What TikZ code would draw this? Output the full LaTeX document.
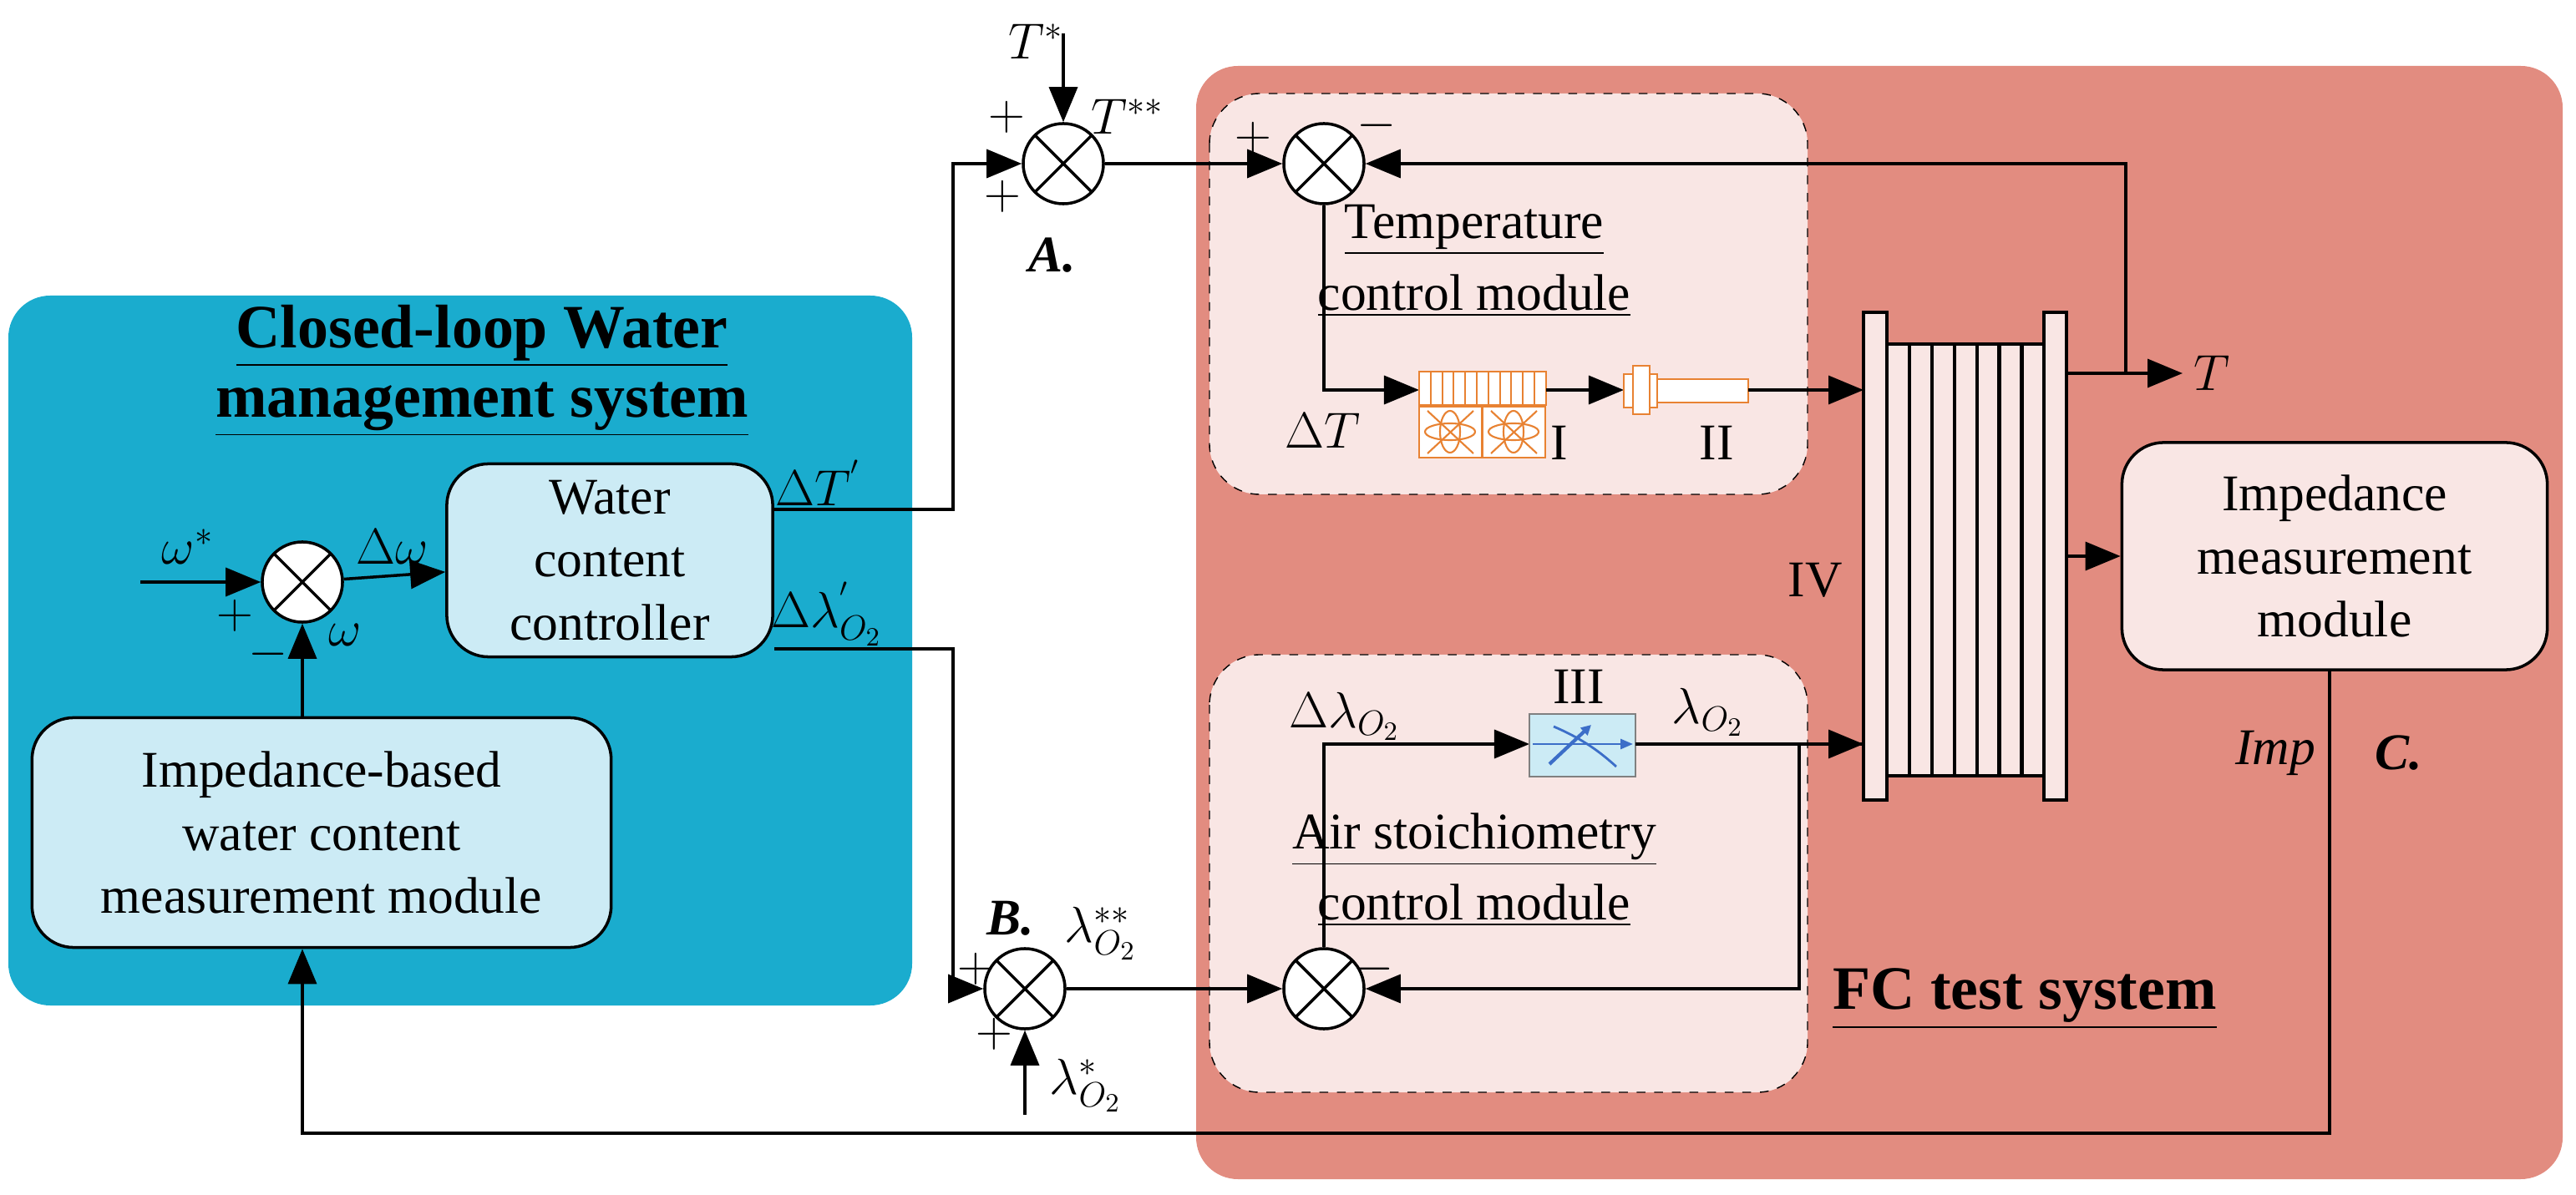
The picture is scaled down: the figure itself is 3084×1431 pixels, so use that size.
\documentclass[tikz,border=0pt]{standalone}
\usepackage{fontspec}
\setmainfont{Liberation Serif}
\usetikzlibrary{arrows.meta}
\definecolor{bluebg}{RGB}{26,172,206}
\definecolor{pinkbg}{RGB}{226,140,128}
\definecolor{lblue}{RGB}{204,235,245}
\definecolor{lpink}{RGB}{249,230,228}
\definecolor{fanor}{RGB}{232,130,50}
\definecolor{valveb}{RGB}{60,110,200}
\begin{document}
\begin{tikzpicture}[x=0.01cm,y=-0.01cm,
  every node/.style={font=\fontsize{17.5}{21.5}\selectfont},
  sum/.style={circle,draw,fill=white,line width=1pt,minimum size=0.96cm,inner sep=0pt,path picture={\draw (path picture bounding box.north west)--(path picture bounding box.south east) (path picture bounding box.north east)--(path picture bounding box.south west);}},
  blk/.style={draw,line width=1pt,rounded corners=0.5cm,align=center},
  arr/.style={-{Triangle[length=0.42cm,width=0.34cm]},line width=1pt},
  ln/.style={line width=1pt},
  ttl/.style={font=\fontsize{21}{26}\selectfont\bfseries,align=center},
  lbl/.style={inner sep=1pt}]
\useasboundingbox (0,0) rectangle (3084,1431);
% backgrounds
\fill[bluebg,rounded corners=0.5cm] (10,354) rectangle (1092,1204);
\fill[pinkbg,rounded corners=0.5cm] (1432,79) rectangle (3068,1412);
\draw[dashed,fill=lpink,rounded corners=0.6cm] (1448,112) rectangle (2164,592);
\draw[dashed,fill=lpink,rounded corners=0.6cm] (1448,784) rectangle (2164,1308);
% blue system
\node[ttl] (t1) at (577,402) {\underline{Closed-loop Water}};
\node[ttl] (t2) at (577,490) {\underline{management system}};
\node[blk,fill=lblue,minimum width=3.9cm,minimum height=2.31cm] (wcc) at (730,671) {Water\\content\\controller};
\node[blk,fill=lblue,minimum width=6.93cm,minimum height=2.75cm] (ibm) at (385,997) {Impedance-based\\water content\\measurement module};
\node[sum] (sw) at (362,697) {};
\coordinate (win) at (168,697);
\draw[arr] (win) -- (sw);
\draw[arr] (sw) -- (wcc);
\draw[arr] (ibm.north -| sw) -- (sw);
\node[lbl] at (225,655) {$\omega^{*}$};
\node[lbl] at (281,737) {$+$};
\node[lbl] at (321,783) {$-$};
\node[lbl] at (470,655) {$\Delta\omega$};
\node[lbl] at (413,760) {$\omega$};
% A sum
\node[sum] (sa) at (1273,196) {};
\coordinate (tin) at (1273,40);
\draw[arr] (tin) -- (sa);
\node[lbl] at (1240,50) {$T^{*}$};
\node[lbl] at (1205,140) {$+$};
\node[lbl] at (1200,235) {$+$};
\node[lbl] at (1350,140) {$T^{**}$};
\node[lbl] at (1260,306) {\bfseries\itshape A.};
\draw[arr] (wcc.east |- 0,610) -- (1141,610) -- (1141,196) -- (sa);
\node[lbl] at (980,578) {$\Delta T^{'}$};
% temperature module
\node[sum] (st) at (1585,196) {};
\draw[arr] (sa) -- (st);
\node[lbl] at (1500,165) {$+$};
\node[lbl] at (1648,150) {$-$};
\node (tt1) at (1765,275) {\underline{Temperature}};
\node (tt2) at (1765,354) {\underline{control module}};
% fan I
\coordinate (fanL) at (1699,467);
\draw[arr] (st) -- (st |- 0,467) -- (fanL);
\fill[white] (1699,445) rectangle (1851,548);
\draw[fanor,line width=0.8pt] (1699,445) rectangle (1851,485);
\foreach \i in {1,...,10} \draw[fanor,line width=0.6pt] (1699+\i*13.8,445) -- (1699+\i*13.8,485);
\foreach \x in {1699,1775}{
  \draw[fanor,line width=0.8pt] (\x,487) rectangle (\x+75,548);
  \draw[fanor,line width=0.6pt] (\x+37,517) ellipse (0.12cm and 0.25cm);
  \draw[fanor,line width=0.6pt] (\x+37,517) ellipse (0.3cm and 0.1cm);
  \draw[fanor,line width=0.6pt] (\x+10,492) -- (\x+65,543) (\x+65,492) -- (\x+10,543);}
\node[lbl] at (1584,516) {$\Delta T$};
\node[lbl] at (1867,530) {I};
\node[lbl] at (2055,530) {II};
% heater II
\draw[arr] (1851,467) -- (1944,467);
\draw[fanor,fill=white,line width=0.8pt] (1984,454) rectangle (2093,482);
\draw[fanor,fill=white,line width=0.8pt] (1944,448) rectangle (1984,488);
\draw[fanor,fill=white,line width=0.8pt] (1955,438) rectangle (1975,496);
% stack
\coordinate (stL) at (2231,467);
\draw[arr] (2093,467) -- (stL);
\draw[line width=1.2pt,fill=lpink] (2231,374) rectangle (2259,958);
\draw[line width=1.2pt,fill=lpink] (2447,374) rectangle (2474,958);
\draw[line width=1.2pt,fill=lpink] (2259,412) rectangle (2447,929);
\foreach \k in {1,...,6} \draw[line width=1.2pt] (2259+\k*26.9,412) -- (2259+\k*26.9,929);
\node[lbl] at (2173,695) {IV};
% T output
\coordinate (tout) at (2613,447);
\draw[arr] (2474,447) -- (tout);
\node[lbl,anchor=west] at (2622,447) {$T$};
\draw[arr] (2545,447) -- (2545,196) -- (st);
% impedance measurement
\node[blk,fill=lpink,minimum width=5.09cm,minimum height=2.72cm] (imm) at (2795,666) {Impedance\\measurement\\module};
\draw[arr] (2474,666) -- (imm);
\node[lbl] at (2724,902) {\itshape Imp};
\node[lbl] at (2872,902) {\bfseries\itshape C.};
\draw[arr] (imm.south -| 2789,0) -- (2789,1357) -- (362,1357) -- (ibm.south -| 362,0);
% B sum
\node[sum] (sb) at (1227,1184) {};
\draw[arr] (wcc.east |- 0,777) -- (1141,777) -- (1141,1184) -- (sb);
\node[lbl] at (990,735) {$\Delta\lambda_{O_2}^{'}$};
\coordinate (lin) at (1227,1335);
\draw[arr] (lin) -- (sb);
\node[lbl] at (1300,1300) {$\lambda_{O_2}^{*}$};
\node[lbl] at (1168,1160) {$+$};
\node[lbl] at (1190,1238) {$+$};
\node[lbl] at (1210,1100) {\bfseries\itshape B.};
\node[lbl] at (1318,1118) {$\lambda_{O_2}^{**}$};
% air module
\node[sum] (sl) at (1585,1184) {};
\draw[arr] (sb) -- (sl);
\node[lbl] at (1645,1160) {$-$};
\node (at1) at (1765,1005) {\underline{Air stoichiometry}};
\node (at2) at (1765,1084) {\underline{control module}};
\coordinate (vL) at (1831,891);
\draw[arr] (sl) -- (sl |- 0,891) -- (vL);
\node[lbl] at (1610,858) {$\Delta\lambda_{O_2}$};
\node[lbl] at (1890,822) {III};
\node[lbl] at (2045,853) {$\lambda_{O_2}$};
\draw[fill=lblue,draw=gray,line width=0.5pt] (1831,855) rectangle (1958,930);
\draw[valveb,line width=0.8pt,-{Triangle[length=0.15cm,width=0.12cm]}] (1835,891) -- (1955,891);
\draw[valveb,line width=1.2pt,-{Triangle[length=0.12cm,width=0.12cm]}] (1855,915) -- (1905,868);
\draw[valveb,line width=0.8pt] (1860,870) .. controls (1895,885) and (1915,900) .. (1935,918);
\draw[ln] (1958,891) -- (2231,891);
\coordinate (sR) at (2231,891);
\draw[arr] (2100,891) -- (sR);
\draw[arr] (2154,891) -- (2154,1184) -- (sl);
\node[ttl] (fc) at (2424,1196) {\underline{FC test system}};
\end{tikzpicture}
\end{document}
